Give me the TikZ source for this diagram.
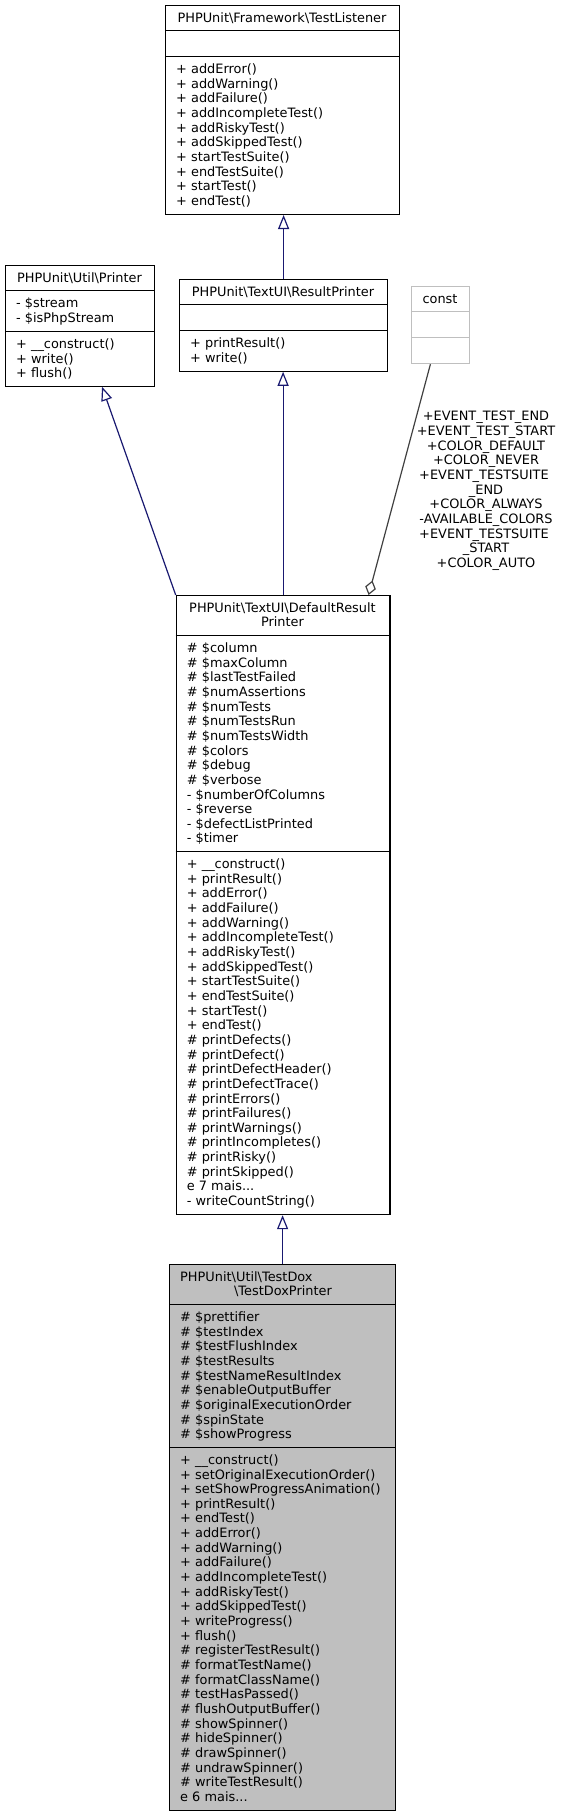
\documentclass[tikz,border=0pt]{standalone}
\usepackage{fontspec}
\setmainfont{DejaVu Sans}
\usetikzlibrary{arrows.meta,calc}
\definecolor{edgeblue}{HTML}{191970}
\definecolor{edgegray}{HTML}{404040}
\definecolor{boxgray}{HTML}{BFBFBF}
\newcommand{\sr}{\rule[-3.65pt]{0pt}{14.65pt}}
\newcommand{\umlfont}{\fontsize{12.9pt}{14.65pt}\selectfont}
\newcommand{\bs}{\textbackslash}
\begin{document}
\begin{tikzpicture}[x=1pt,y=-1pt,
  box/.style={draw=black,line width=1.2pt,inner sep=0pt,anchor=north west},
  div/.style={draw=black,line width=1.2pt},
  mem/.style={anchor=north west,inner sep=0pt,align=left,font=\umlfont},
  ttl/.style={anchor=north,inner sep=0pt,align=center,font=\umlfont},
  inh/.style={draw=edgeblue,line width=1.2pt,-{Triangle[open,length=14pt,width=11pt]}},
  agg/.style={draw=edgegray,line width=1.2pt,-{Diamond[open,length=15pt,width=11pt]}}]
\useasboundingbox (0,0) rectangle (563,1816);

% TestListener
\node[box,minimum width=234pt,minimum height=208.8pt] (tl) at (165,5) {};
\draw[div] (165,30.65) -- ++(234,0);
\draw[div] (165,56.3) -- ++(234,0);
\node[ttl] (tlt) at (282,11) {\sr PHPUnit\bs Framework\bs TestListener};
\node[mem] (tlm) at (176,62.3) {\sr + addError()\\\sr + addWarning()\\\sr + addFailure()\\\sr + addIncompleteTest()\\\sr + addRiskyTest()\\\sr + addSkippedTest()\\\sr + startTestSuite()\\\sr + endTestSuite()\\\sr + startTest()\\\sr + endTest()};

% Printer
\node[box,minimum width=149pt,minimum height=120.5pt] (pr) at (5,265) {};
\draw[div] (5,290.65) -- ++(149,0);
\draw[div] (5,331.3) -- ++(149,0);
\node[ttl] (prt) at (79.5,271) {\sr PHPUnit\bs Util\bs Printer};
\node[mem] (pra) at (16,296.65) {\sr - \$stream\\\sr - \$isPhpStream};
\node[mem] (prm) at (16,337.3) {\sr + \_\_construct()\\\sr + write()\\\sr + flush()};

% ResultPrinter
\node[box,minimum width=208pt,minimum height=91.6pt] (rp) at (179,279) {};
\draw[div] (179,304.65) -- ++(208,0);
\draw[div] (179,330.3) -- ++(208,0);
\node[ttl] (rpt) at (283,285) {\sr PHPUnit\bs TextUI\bs ResultPrinter};
\node[mem] (rpm) at (190,336.3) {\sr + printResult()\\\sr + write()};

% const
\node[box,draw=boxgray,minimum width=58pt,minimum height=77pt] (cst) at (411,286) {};
\draw[div,draw=boxgray] (411,311.65) -- ++(58,0);
\draw[div,draw=boxgray] (411,337.3) -- ++(58,0);
\node[ttl] (cstt) at (440,292) {\sr const};

% DefaultResultPrinter
\node[box,minimum width=213.6pt,minimum height=619pt] (drp) at (175.7,595) {};
\draw[div] (175.7,635.3) -- ++(213.6,0);
\draw[div] (175.7,851.4) -- ++(213.6,0);
\node[ttl] (drpt) at (282.5,601) {\sr PHPUnit\bs TextUI\bs DefaultResult\\\sr Printer};
\node[mem] (drpa) at (186.7,641.3) {\sr \# \$column\\\sr \# \$maxColumn\\\sr \# \$lastTestFailed\\\sr \# \$numAssertions\\\sr \# \$numTests\\\sr \# \$numTestsRun\\\sr \# \$numTestsWidth\\\sr \# \$colors\\\sr \# \$debug\\\sr \# \$verbose\\\sr - \$numberOfColumns\\\sr - \$reverse\\\sr - \$defectListPrinted\\\sr - \$timer};
\node[mem] (drpm) at (186.7,857.4) {\sr + \_\_construct()\\\sr + printResult()\\\sr + addError()\\\sr + addFailure()\\\sr + addWarning()\\\sr + addIncompleteTest()\\\sr + addRiskyTest()\\\sr + addSkippedTest()\\\sr + startTestSuite()\\\sr + endTestSuite()\\\sr + startTest()\\\sr + endTest()\\\sr \# printDefects()\\\sr \# printDefect()\\\sr \# printDefectHeader()\\\sr \# printDefectTrace()\\\sr \# printErrors()\\\sr \# printFailures()\\\sr \# printWarnings()\\\sr \# printIncompletes()\\\sr \# printRisky()\\\sr \# printSkipped()\\\sr e 7 mais...\\\sr - writeCountString()};

% TestDoxPrinter
\node[box,fill=boxgray,minimum width=226pt,minimum height=545.75pt] (tdp) at (169,1264) {};
\draw[div] (169,1304.3) -- ++(226,0);
\draw[div] (169,1447.15) -- ++(226,0);
\node[mem] (tdpt1) at (180,1270) {\sr PHPUnit\bs Util\bs TestDox};
\node[ttl] (tdpt2) at (283,1284.65) {\sr \bs TestDoxPrinter};
\node[mem] (tdpa) at (180,1310.3) {\sr \# \$prettifier\\\sr \# \$testIndex\\\sr \# \$testFlushIndex\\\sr \# \$testResults\\\sr \# \$testNameResultIndex\\\sr \# \$enableOutputBuffer\\\sr \# \$originalExecutionOrder\\\sr \# \$spinState\\\sr \# \$showProgress};
\node[mem] (tdpm) at (180,1453.15) {\sr + \_\_construct()\\\sr + setOriginalExecutionOrder()\\\sr + setShowProgressAnimation()\\\sr + printResult()\\\sr + endTest()\\\sr + addError()\\\sr + addWarning()\\\sr + addFailure()\\\sr + addIncompleteTest()\\\sr + addRiskyTest()\\\sr + addSkippedTest()\\\sr + writeProgress()\\\sr + flush()\\\sr \# registerTestResult()\\\sr \# formatTestName()\\\sr \# formatClassName()\\\sr \# testHasPassed()\\\sr \# flushOutputBuffer()\\\sr \# showSpinner()\\\sr \# hideSpinner()\\\sr \# drawSpinner()\\\sr \# undrawSpinner()\\\sr \# writeTestResult()\\\sr e 6 mais...};

% edges
\draw[inh] (rp.north) -- (rp.north |- tl.south);
\draw[inh] (drp.north) -- (drp.north |- rp.south);
\draw[inh] (drp.north west) -- ($(pr.south west)!0.646!(pr.south east)$);
\draw[inh] (tdp.north) -- (tdp.north |- drp.south);
\draw[agg] ($(cst.south west)!0.328!(cst.south east)$) -- ($(drp.north west)!0.898!(drp.north east)$);

% label of const edge
\node[ttl] (lbl) at (486,409.7) {\sr +EVENT\_TEST\_END\\\sr +EVENT\_TEST\_START\\\sr +COLOR\_DEFAULT\\\sr +COLOR\_NEVER\\\sr +EVENT\_TESTSUITE\rule{4.1pt}{0pt}\\\sr \_END\\\sr +COLOR\_ALWAYS\\\sr -AVAILABLE\_COLORS\\\sr +EVENT\_TESTSUITE\rule{4.1pt}{0pt}\\\sr \_START\\\sr +COLOR\_AUTO};
\end{tikzpicture}
\end{document}
